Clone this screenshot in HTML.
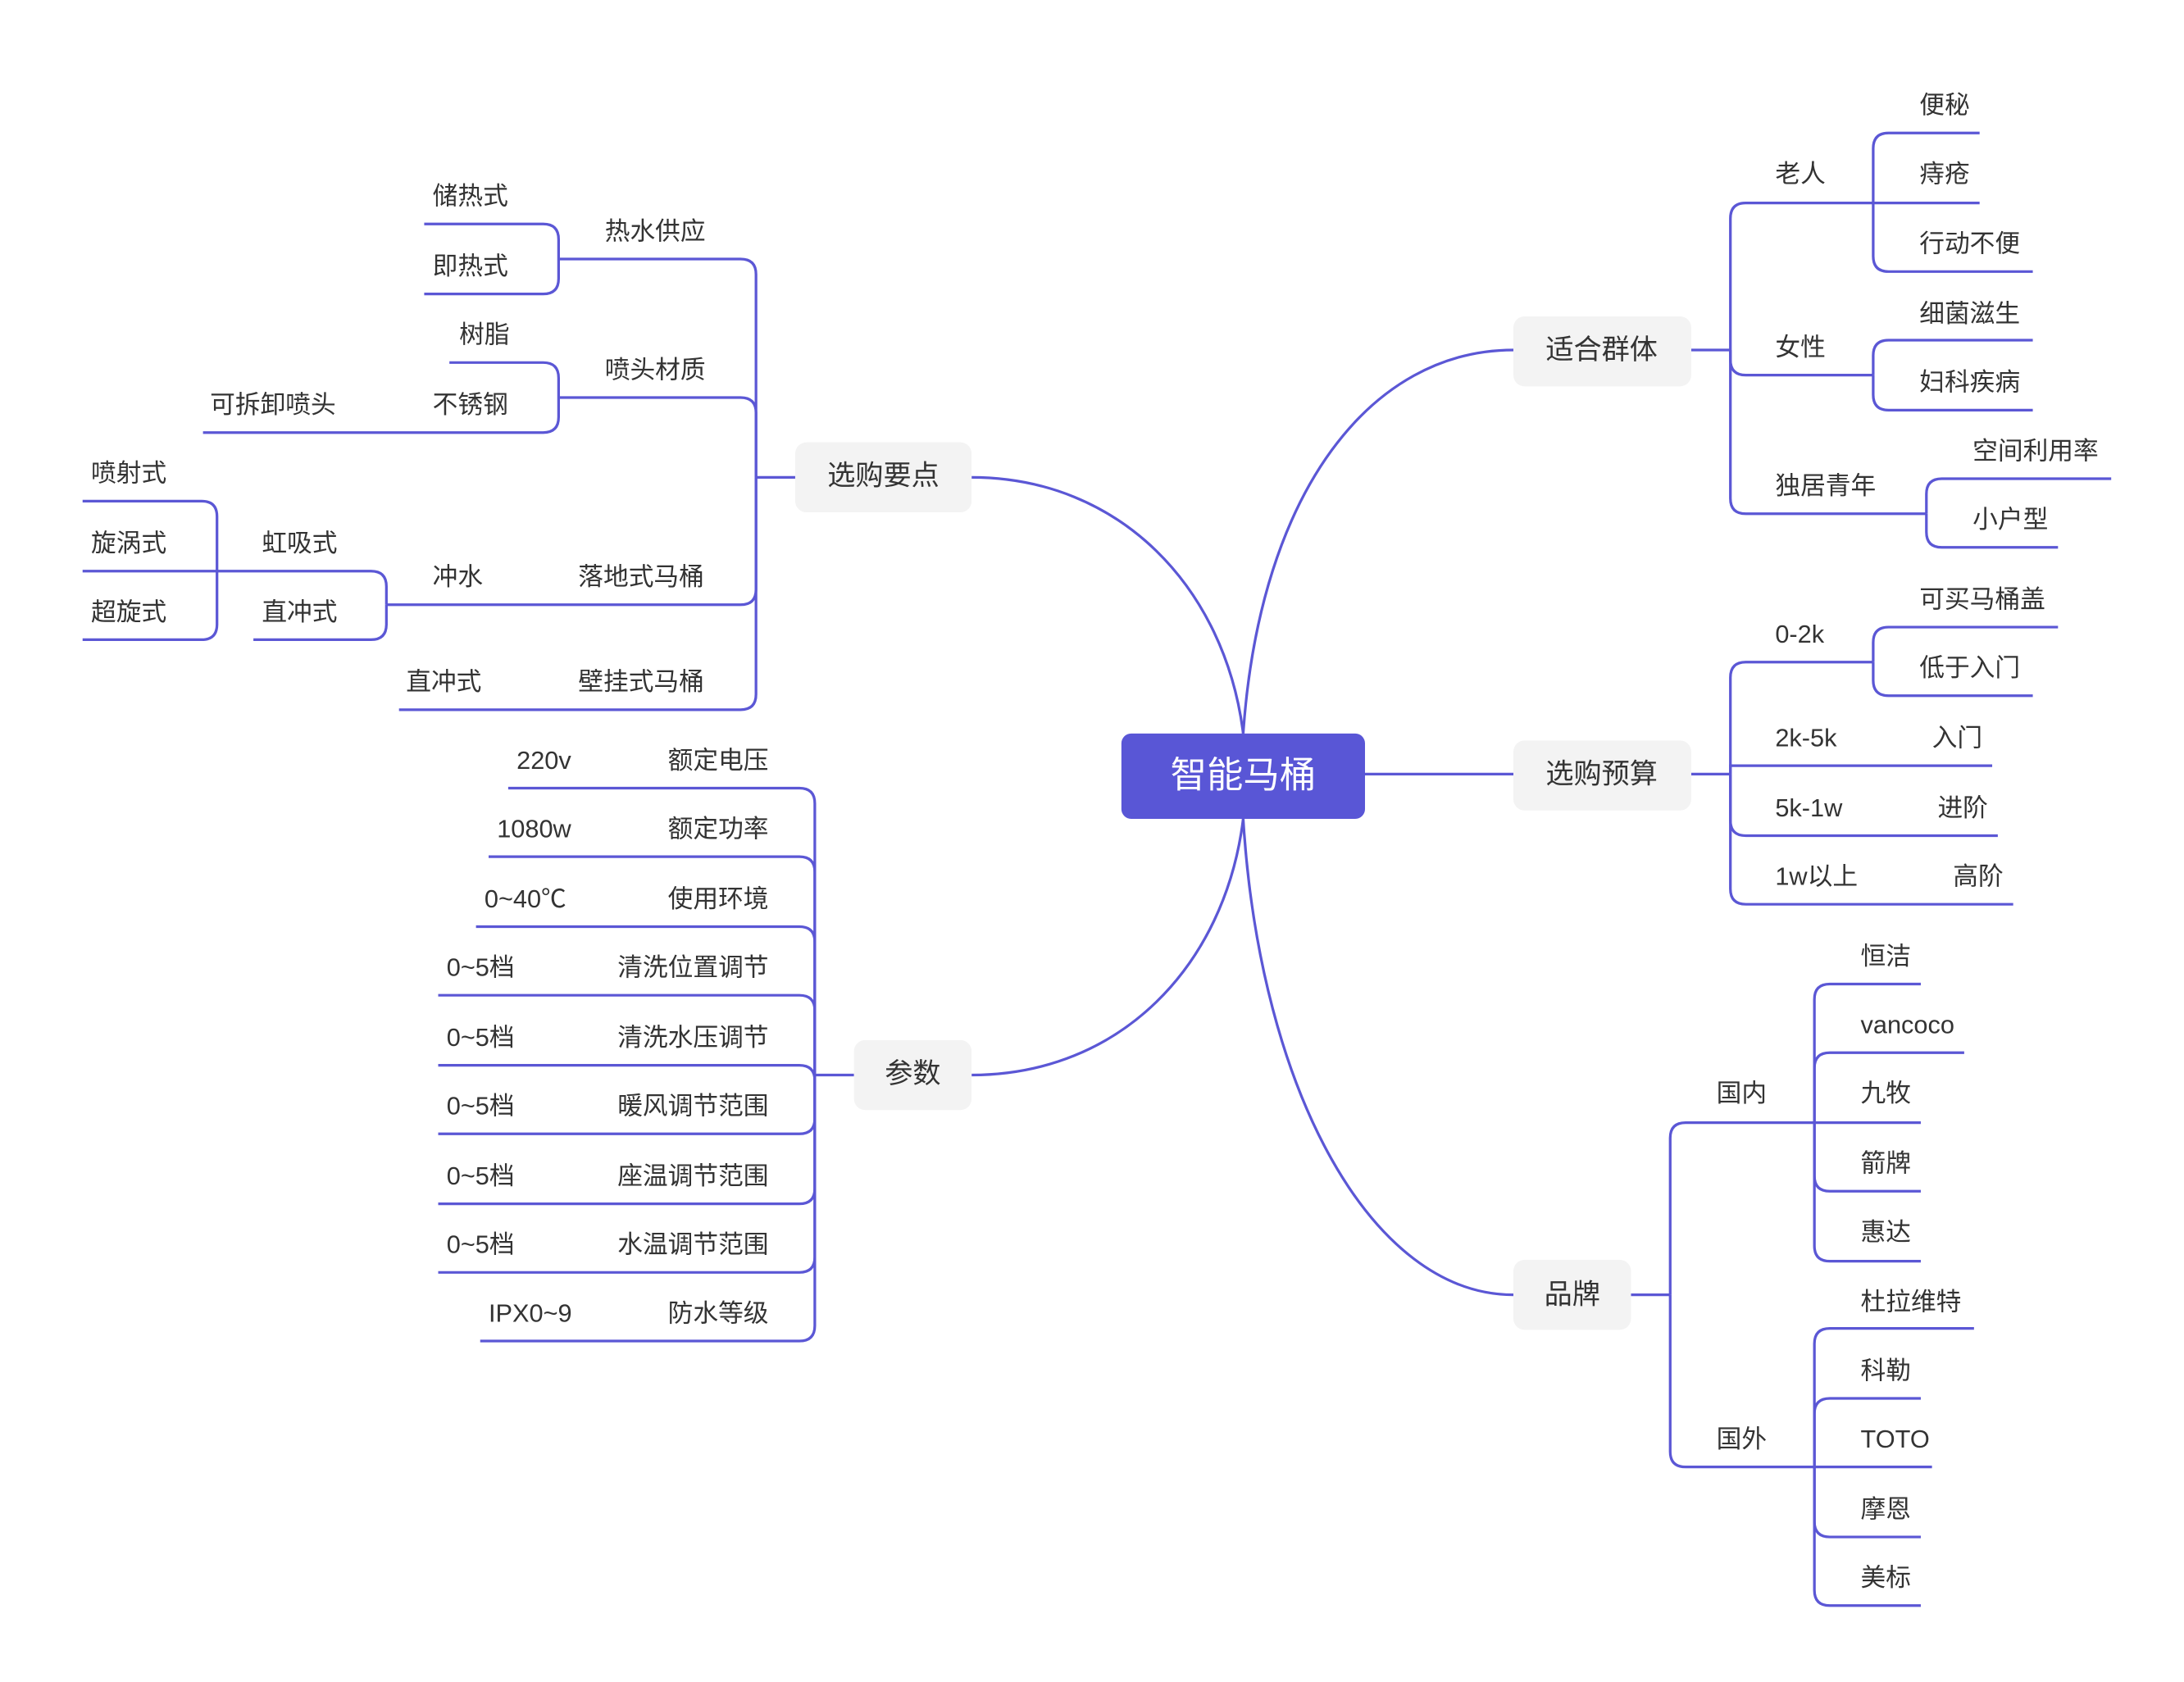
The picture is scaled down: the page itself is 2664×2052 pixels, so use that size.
<!DOCTYPE html>
<html><head><meta charset="utf-8"><style>
html,body{margin:0;padding:0;background:#fff;}
svg{display:block}
text{font-family:"Liberation Sans","Noto Sans CJK SC",sans-serif;fill:#333;dominant-baseline:central;font-size:18px}
.m{font-size:20px;text-anchor:middle}
.e{text-anchor:end}
path{fill:none;stroke:#5b57d5;stroke-width:1.9;stroke-linecap:butt}
</style></head><body>
<svg width="2664" height="2052" viewBox="0 0 1560 1201.6" xmlns="http://www.w3.org/2000/svg">
<!-- main curves -->
<path d="M888,524 C900,350 980,250 1081,250"/>
<path d="M975,553 H1081"/>
<path d="M888,585 C900,780 980,925 1081,925"/>
<path d="M888,524 C875,420 800,341 694,341"/>
<path d="M888,585 C875,690 800,768 694,768"/>

<!-- 适合群体 -->
<path d="M1208,250 H1236"/>
<path d="M1236,250 V156 Q1236,145 1247,145 H1338"/>
<path d="M1236,250 V257 Q1236,268 1247,268 H1338"/>
<path d="M1236,250 V356 Q1236,367 1247,367 H1376"/>
<path d="M1338,145 V106 Q1338,95 1349,95 H1414"/>
<path d="M1338,145 H1414"/>
<path d="M1338,145 V183 Q1338,194 1349,194 H1452"/>
<path d="M1338,268 V254 Q1338,243 1349,243 H1452"/>
<path d="M1338,268 V282 Q1338,293 1349,293 H1452"/>
<path d="M1376,367 V353 Q1376,342 1387,342 H1508"/>
<path d="M1376,367 V380 Q1376,391 1387,391 H1470"/>

<!-- 选购预算 -->
<path d="M1208,553 H1236"/>
<path d="M1236,553 V484 Q1236,473 1247,473 H1338"/>
<path d="M1236,553 V547 H1423"/>
<path d="M1236,553 V586 Q1236,597 1247,597 H1427"/>
<path d="M1236,553 V635 Q1236,646 1247,646 H1438"/>
<path d="M1338,473 V459 Q1338,448 1349,448 H1470"/>
<path d="M1338,473 V486 Q1338,497 1349,497 H1452"/>

<!-- 品牌 -->
<path d="M1165,925 H1193"/>
<path d="M1193,925 V813 Q1193,802 1204,802 H1296"/>
<path d="M1193,925 V1037 Q1193,1048 1204,1048 H1296"/>
<path d="M1296,802 V714 Q1296,703 1307,703 H1372"/>
<path d="M1296,802 V763 Q1296,752 1307,752 H1403"/>
<path d="M1296,802 H1372"/>
<path d="M1296,802 V840 Q1296,851 1307,851 H1372"/>
<path d="M1296,802 V890 Q1296,901 1307,901 H1372"/>
<path d="M1296,1048 V960 Q1296,949 1307,949 H1410"/>
<path d="M1296,1048 V1010 Q1296,999 1307,999 H1372"/>
<path d="M1296,1048 H1380"/>
<path d="M1296,1048 V1087 Q1296,1098 1307,1098 H1372"/>
<path d="M1296,1048 V1136 Q1296,1147 1307,1147 H1372"/>

<!-- 选购要点 -->
<path d="M568,341 H540"/>
<path d="M540,341 V196 Q540,185 529,185 H399"/>
<path d="M540,341 V295 Q540,284 529,284 H399"/>
<path d="M540,341 V421 Q540,432 529,432 H276"/>
<path d="M540,341 V496 Q540,507 529,507 H285"/>
<path d="M399,185 V171 Q399,160 388,160 H303"/>
<path d="M399,185 V199 Q399,210 388,210 H303"/>
<path d="M399,284 V270 Q399,259 388,259 H321"/>
<path d="M399,284 V298 Q399,309 388,309 H145"/>
<path d="M276,432 V419 Q276,408 265,408 H155"/>
<path d="M276,432 V446 Q276,457 265,457 H181"/>
<path d="M155,408 V369 Q155,358 144,358 H59"/>
<path d="M155,408 H59"/>
<path d="M155,408 V446 Q155,457 144,457 H59"/>

<!-- 参数 -->
<path d="M610,768 H582"/>
<path d="M582,768 V574 Q582,563 571,563 H363"/>
<path d="M582,768 V623 Q582,612 571,612 H349"/>
<path d="M582,768 V673 Q582,662 571,662 H340"/>
<path d="M582,768 V722 Q582,711 571,711 H313"/>
<path d="M582,768 V772 Q582,761 571,761 H313"/>
<path d="M582,768 V799 Q582,810 571,810 H313"/>
<path d="M582,768 V849 Q582,860 571,860 H313"/>
<path d="M582,768 V898 Q582,909 571,909 H313"/>
<path d="M582,768 V947 Q582,958 571,958 H343"/>

<!-- nodes -->
<rect x="801" y="524" width="174" height="61" rx="7" fill="#5956d6"/>
<text x="888" y="554" class="m" style="fill:#fff;font-size:26px">智能马桶</text>
<rect x="1081" y="226" width="127" height="50" rx="8" fill="#f3f3f3"/>
<text x="1144" y="250" class="m">适合群体</text>
<rect x="1081" y="529" width="127" height="50" rx="8" fill="#f3f3f3"/>
<text x="1144" y="553" class="m">选购预算</text>
<rect x="1081" y="900" width="84" height="50" rx="8" fill="#f3f3f3"/>
<text x="1123" y="925" class="m">品牌</text>
<rect x="568" y="316" width="126" height="50" rx="8" fill="#f3f3f3"/>
<text x="631" y="340" class="m">选购要点</text>
<rect x="610" y="743" width="84" height="50" rx="8" fill="#f3f3f3"/>
<text x="652" y="767" class="m">参数</text>

<!-- right texts -->
<text x="1268" y="124">老人</text>
<text x="1268" y="248">女性</text>
<text x="1268" y="347">独居青年</text>
<text x="1371" y="75">便秘</text>
<text x="1371" y="124">痔疮</text>
<text x="1371" y="174">行动不便</text>
<text x="1371" y="224">细菌滋生</text>
<text x="1371" y="273">妇科疾病</text>
<text x="1409" y="322">空间利用率</text>
<text x="1409" y="371">小户型</text>

<text x="1268" y="453">0-2k</text>
<text x="1371" y="428">可买马桶盖</text>
<text x="1371" y="477">低于入门</text>
<text x="1268" y="527">2k-5k</text><text x="1380" y="527">入门</text>
<text x="1268" y="577">5k-1w</text><text x="1384" y="577">进阶</text>
<text x="1268" y="626">1w以上</text><text x="1395" y="626">高阶</text>

<text x="1226" y="781">国内</text>
<text x="1226" y="1028">国外</text>
<text x="1329" y="683">恒洁</text>
<text x="1329" y="732">vancoco</text>
<text x="1329" y="781">九牧</text>
<text x="1329" y="831">箭牌</text>
<text x="1329" y="880">惠达</text>
<text x="1329" y="930">杜拉维特</text>
<text x="1329" y="979">科勒</text>
<text x="1329" y="1028">TOTO</text>
<text x="1329" y="1078">摩恩</text>
<text x="1329" y="1127">美标</text>

<!-- left texts -->
<text x="432" y="165">热水供应</text>
<text x="432" y="264">喷头材质</text>
<text x="413" y="412">落地式马桶</text>
<text x="413" y="487">壁挂式马桶</text>
<text x="290" y="487">直冲式</text>
<text x="309" y="140">储热式</text>
<text x="309" y="190">即热式</text>
<text x="328" y="239">树脂</text>
<text x="309" y="289">不锈钢</text>
<text x="150" y="289">可拆卸喷头</text>
<text x="309" y="412">冲水</text>
<text x="187" y="388">虹吸式</text>
<text x="187" y="437">直冲式</text>
<text x="65" y="338">喷射式</text>
<text x="65" y="388">旋涡式</text>
<text x="65" y="437">超旋式</text>

<text x="549" y="543" class="e">额定电压</text><text x="369" y="543">220v</text>
<text x="549" y="592" class="e">额定功率</text><text x="355" y="592">1080w</text>
<text x="549" y="642" class="e">使用环境</text><text x="346" y="642">0~40℃</text>
<text x="549" y="691" class="e">清洗位置调节</text><text x="319" y="691">0~5档</text>
<text x="549" y="741" class="e">清洗水压调节</text><text x="319" y="741">0~5档</text>
<text x="549" y="790" class="e">暖风调节范围</text><text x="319" y="790">0~5档</text>
<text x="549" y="840" class="e">座温调节范围</text><text x="319" y="840">0~5档</text>
<text x="549" y="889" class="e">水温调节范围</text><text x="319" y="889">0~5档</text>
<text x="549" y="938" class="e">防水等级</text><text x="349" y="938">IPX0~9</text>
</svg>
</body></html>
